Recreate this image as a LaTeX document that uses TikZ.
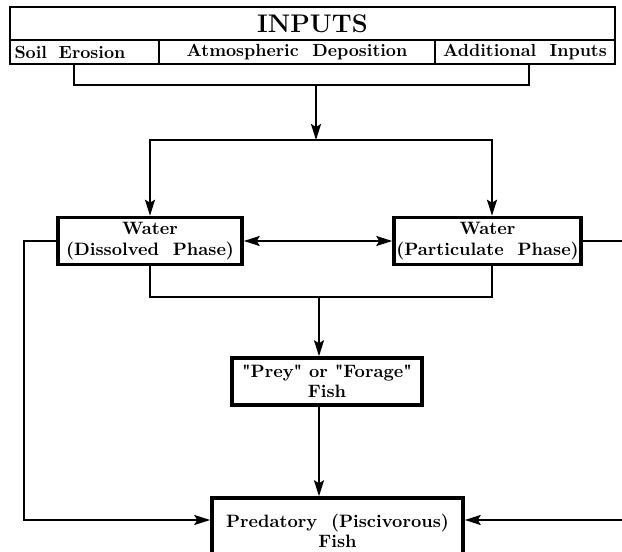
\documentclass[tikz,border=0pt]{standalone}
\usepackage{fontspec}
\usepackage{tikz}
\usetikzlibrary{arrows.meta}

\begin{document}
\begin{tikzpicture}[line width=1.1pt,
  box/.style={draw,line width=2pt,align=center,inner sep=1pt,
    font=\fontsize{10.2}{11.5}\selectfont\bfseries},
  cell/.style={draw,line width=1.4pt,minimum height=0.48cm,inner sep=2pt,
    font=\fontsize{10}{12}\selectfont\bfseries},
  arr/.style={-{Stealth[length=0.32cm,width=0.2cm,inset=0.06cm]}},
  darr/.style={{Stealth[length=0.32cm,width=0.2cm,inset=0.06cm]}-{Stealth[length=0.32cm,width=0.2cm,inset=0.06cm]}}]
\useasboundingbox (0,0) rectangle (12.44,11.02);
% inputs table
\node[cell,minimum width=12.1cm,minimum height=0.66cm,
  font=\fontsize{14.5}{14.5}\selectfont\bfseries] (inputs) at (6.25,10.55) {\raisebox{-0.12cm}{INPUTS}};
\node[cell,minimum width=2.98cm,text width=2.8cm,align=left] (soil) at (1.69,9.98) {Soil\ \ Erosion};
\node[cell,minimum width=5.52cm] (atmos) at (5.94,9.98) {Atmospheric\ \ Deposition};
\node[cell,minimum width=3.6cm] (addit) at (10.5,9.98) {Additional\ \ Inputs};
% compartments
\node[box,minimum width=3.68cm,minimum height=0.94cm] (dis) at (3.0,6.2) {Water\\(Dissolved\ \ Phase)};
\node[box,minimum width=3.74cm,minimum height=0.94cm] (par) at (9.75,6.2) {Water\\(Particulate\ \ Phase)};
\node[box,minimum width=3.8cm,minimum height=0.94cm] (prey) at (6.54,3.39)
  {\textquotedbl Prey\textquotedbl\ or \textquotedbl Forage\textquotedbl\\Fish};
\node[box,minimum width=5.02cm,minimum height=1.3cm] (pred) at (6.75,0.41) {Predatory\ \ (Piscivorous)\\Fish};
% connectors
\coordinate (collect) at (6.32,9.32);
\coordinate (split) at (6.32,8.22);
\draw ([xshift=-0.21cm]soil.south) |- (collect) -| ([xshift=0.08cm]addit.south);
\draw[arr] (collect) -- (split);
\draw[arr] (split) -| (dis.north);
\draw[arr] (split) -| ([xshift=0.09cm]par.north);
\draw[darr] (dis.east) -- (par.west);
\coordinate (merge) at (6.38,5.08);
\draw (dis.south) |- (merge) -| ([xshift=0.09cm]par.south);
\draw[arr] (merge) -- (merge |- prey.north);
\draw[arr] (merge |- prey.south) -- (merge |- pred.north);
\coordinate (lcorner) at (0.48,0.62);
\coordinate (rcorner) at (12.6,0.62);
\draw[arr] (dis.west) -| (lcorner) -- (lcorner -| pred.west);
\draw[arr] (par.east) -| (rcorner) -- (rcorner -| pred.east);
\end{tikzpicture}
\end{document}
